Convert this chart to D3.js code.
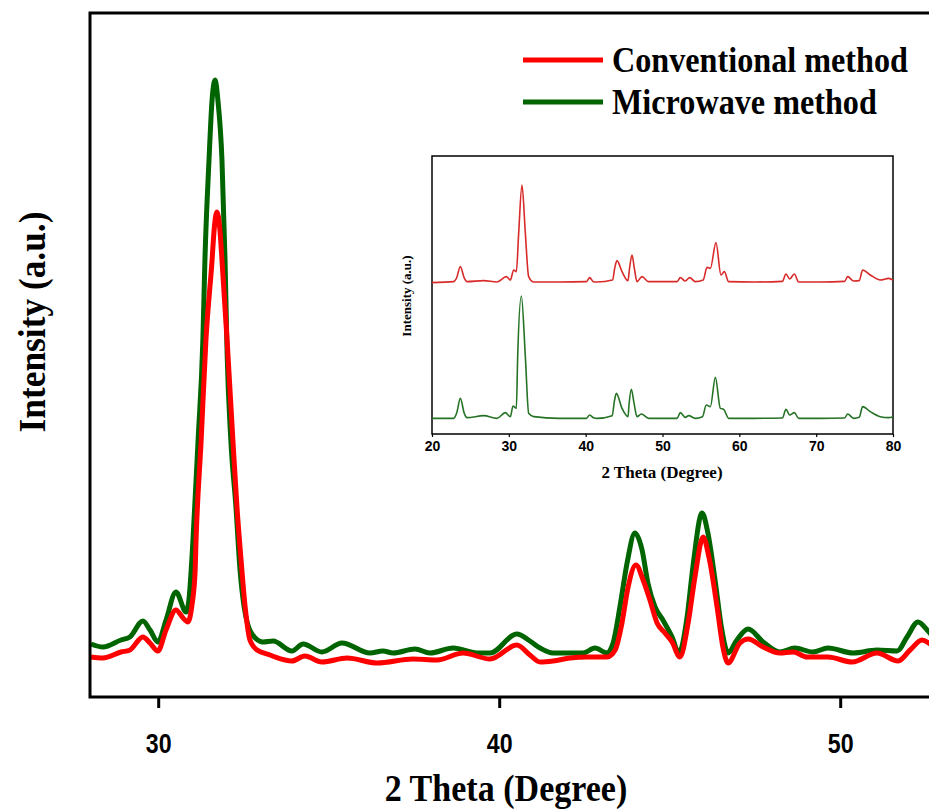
<!DOCTYPE html>
<html>
<head>
<meta charset="utf-8">
<script src="https://cdn.jsdelivr.net/npm/d3@7"></script>
<style>
  html, body { margin: 0; padding: 0; background: #fff; }
  svg { display: block; }
  .serif { font-family: "Liberation Serif", "Times New Roman", serif; font-weight: bold; }
  .sans { font-family: "Liberation Sans", Arial, sans-serif; font-weight: bold; }
</style>
</head>
<body>
<div id="chart"></div>
<script>
// main panel (zoomed 28-53 deg)
const convTheta = [28.03, 28.38, 28.91, 29.17, 29.55, 29.76, 29.99, 30.23, 30.52, 30.73, 30.87, 30.99, 31.08, 31.11, 31.26, 31.40, 31.58, 31.64, 31.72, 31.81, 31.87, 32.02, 32.19, 32.31, 32.43, 32.55, 32.69, 32.90, 33.28, 33.43, 33.92, 34.30, 34.80, 35.54, 36.42, 37.47, 38.18, 38.94, 39.73, 40.52, 40.90, 41.20, 41.58, 42.08, 42.57, 43.16, 43.40, 43.60, 43.78, 44.01, 44.22, 44.42, 44.63, 44.86, 45.07, 45.30, 45.54, 45.74, 45.98, 46.15, 46.39, 46.56, 46.71, 47.06, 47.30, 47.74, 48.23, 48.62, 49.03, 49.64, 50.35, 51.08, 51.70, 52.05, 52.40, 52.60, 52.90];
const convIntensity = [40, 39, 45, 47, 60, 54, 46, 67, 87, 79, 75, 92, 124, 157, 257, 357, 437, 467, 485, 467, 437, 357, 257, 190, 137, 90, 57, 47, 42, 40, 36, 41, 35, 39, 34, 38, 37, 44, 38, 52, 42, 35, 36, 39, 40, 40, 47, 74, 110, 132, 117, 97, 74, 64, 55, 40, 74, 120, 160, 140, 90, 50, 34, 54, 58, 50, 44, 45, 40, 40, 35, 44, 36, 47, 57, 54, 45];

const microTheta = [28.03, 28.38, 28.91, 29.17, 29.55, 29.76, 29.99, 30.23, 30.52, 30.82, 30.90, 31.02, 31.17, 31.31, 31.37, 31.49, 31.58, 31.67, 31.75, 31.87, 31.96, 32.02, 32.13, 32.28, 32.40, 32.52, 32.63, 32.75, 33.07, 33.37, 33.92, 34.25, 34.80, 35.39, 36.21, 36.59, 36.89, 37.53, 37.97, 38.65, 39.35, 39.73, 40.52, 40.90, 41.20, 41.58, 41.99, 42.46, 42.81, 43.16, 43.34, 43.54, 43.75, 43.98, 44.19, 44.36, 44.57, 44.80, 45.07, 45.27, 45.51, 45.68, 45.95, 46.12, 46.33, 46.53, 46.71, 46.97, 47.30, 47.74, 48.23, 48.67, 49.20, 49.64, 50.38, 51.08, 51.67, 51.96, 52.28, 52.55, 52.90];
const microIntensity = [53, 50, 57, 60, 76, 67, 55, 77, 105, 85, 97, 157, 257, 357, 437, 537, 597, 617, 597, 537, 437, 344, 257, 190, 127, 90, 72, 63, 55, 56, 46, 53, 45, 54, 44, 46, 44, 48, 44, 49, 44, 44, 63, 56, 49, 44, 44, 44, 49, 44, 54, 90, 134, 164, 147, 114, 90, 77, 60, 44, 80, 130, 184, 164, 117, 67, 44, 57, 68, 55, 45, 49, 45, 49, 44, 47, 46, 60, 75, 67, 52];

// inset (full 20-80 deg pattern)
const insetConvTheta = [20.0, 22.82, 23.2, 23.69, 24.2, 24.56, 26.72, 28.46, 29.67, 30.20, 30.63, 30.98, 31.28, 31.71, 32.15, 32.58, 33.23, 36.5, 40.1, 40.52, 41.0, 41.48, 43.5, 43.8, 44.08, 44.73, 45.51, 45.7, 46.03, 46.35, 46.68, 47.33, 48.20, 51.9, 52.32, 52.97, 53.54, 54.27, 55.3, 55.79, 56.23, 56.96, 57.61, 58.05, 58.61, 62.0, 65.6, 66.07, 66.55, 67.16, 67.72, 70.5, 73.7, 74.10, 74.88, 75.6, 76.05, 77.05, 78.35, 79.44, 80.0];
const insetConvIntensity = [44, 47, 58, 92, 58, 47, 50, 46, 62, 52, 82, 77, 192, 337, 192, 62, 46, 46, 47, 59, 47, 46, 52, 90, 110, 77, 50, 85, 127, 85, 47, 62, 47, 47, 59, 49, 59, 47, 52, 90, 87, 164, 67, 77, 47, 46, 48, 70, 55, 70, 46, 46, 48, 62, 49, 50, 82, 67, 52, 57, 52];

const insetMicroTheta = [20.0, 22.82, 23.2, 23.69, 24.2, 24.56, 26.72, 28.46, 29.54, 30.20, 30.54, 30.98, 31.15, 31.63, 32.15, 32.58, 33.23, 36.5, 40.1, 40.52, 41.0, 41.48, 43.45, 43.75, 43.99, 44.73, 45.51, 45.65, 45.94, 46.3, 46.68, 47.25, 48.20, 51.9, 52.32, 52.97, 53.41, 54.27, 55.2, 55.70, 56.23, 56.88, 57.53, 57.96, 58.61, 62.0, 65.6, 66.07, 66.55, 67.16, 67.72, 70.5, 73.7, 74.10, 74.88, 75.6, 76.05, 77.05, 78.35, 79.44, 80.0];
const insetMicroIntensity = [47, 47, 62, 107, 62, 49, 55, 47, 64, 52, 84, 77, 232, 414, 232, 62, 52, 47, 47, 57, 49, 47, 55, 100, 122, 77, 52, 90, 134, 92, 52, 60, 47, 47, 64, 50, 55, 47, 52, 87, 82, 170, 77, 74, 47, 47, 48, 74, 57, 64, 47, 47, 48, 60, 47, 50, 82, 67, 52, 49, 52];

const mainTicks = [30, 40, 50];
const insetTicks = [20, 30, 40, 50, 60, 70, 80];
const insetOffset = 410; // vertical stacking of the conventional pattern

const seriesNames = ["Conventional method", "Microwave method"];
const seriesColors = ["#ff0000", "#006400"];
const insetColors = ["#d92a2a", "#267326"];

const width = 929;
const height = 810;

const svg = d3.select("#chart")
  .append("svg")
  .attr("width", width)
  .attr("height", height);

// ---------- main panel ----------
const plot = { left: 90, top: 13, bottom: 697 };

const x = d3.scaleLinear()
  .domain([28, 53])
  .range([plot.left, plot.left + 25 * 34.1]);

const y = d3.scaleLinear()
  .domain([0, 684])
  .range([plot.bottom, plot.top]);

svg.append("clipPath")
  .attr("id", "plotClip")
  .append("rect")
  .attr("x", plot.left)
  .attr("y", plot.top)
  .attr("width", x(53) - plot.left)
  .attr("height", plot.bottom - plot.top);

const line = d3.line()
  .x(d => x(d[0]))
  .y(d => y(d[1]))
  .curve(d3.curveMonotoneX);

const mainSeries = [
  d3.zip(convTheta, convIntensity),
  d3.zip(microTheta, microIntensity)
];

// microwave drawn first, conventional on top
svg.append("g")
  .attr("clip-path", "url(#plotClip)")
  .selectAll("path")
  .data([1, 0])
  .enter()
  .append("path")
  .attr("fill", "none")
  .attr("stroke", i => seriesColors[i])
  .attr("stroke-width", 5)
  .attr("stroke-linejoin", "round")
  .attr("d", i => line(mainSeries[i]));

// frame
svg.append("rect")
  .attr("x", plot.left)
  .attr("y", plot.top)
  .attr("width", x(53) - plot.left + 20)
  .attr("height", plot.bottom - plot.top)
  .attr("fill", "none")
  .attr("stroke", "#000")
  .attr("stroke-width", 3);

const xAxis = svg.append("g")
  .attr("transform", `translate(0,${plot.bottom})`)
  .call(d3.axisBottom(x).tickValues(mainTicks).tickSize(11).tickPadding(26));

xAxis.select(".domain").remove();
xAxis.selectAll(".tick line").attr("stroke", "#000").attr("stroke-width", 3);
xAxis.selectAll(".tick text")
  .attr("class", "sans")
  .attr("fill", "#000")
  .attr("transform", "scale(0.86,1)")
  .style("font-size", "27px");

svg.append("text")
  .attr("class", "serif")
  .attr("transform", "translate(506,801) scale(0.92,1)")
  .attr("text-anchor", "middle")
  .style("font-size", "37px")
  .text("2 Theta (Degree)");

svg.append("text")
  .attr("class", "serif")
  .attr("transform", "translate(45,322) rotate(-90) scale(0.93,1)")
  .attr("text-anchor", "middle")
  .style("font-size", "38px")
  .text("Intensity (a.u.)");

// legend
const legend = svg.append("g");
seriesNames.forEach((name, i) => {
  const row = legend.append("g")
    .attr("transform", `translate(523, ${60 + i * 42})`);
  row.append("line")
    .attr("x1", 0)
    .attr("x2", 80)
    .attr("stroke", seriesColors[i])
    .attr("stroke-width", 5);
  row.append("text")
    .attr("class", "serif")
    .attr("transform", "translate(89,12) scale(0.92,1)")
    .style("font-size", "35px")
    .text(name);
});

// ---------- inset ----------
const inset = { left: 432, right: 893, top: 156, bottom: 434 };

const ix = d3.scaleLinear()
  .domain([20, 80])
  .range([inset.left, inset.right]);

const iy = d3.scaleLinear()
  .domain([0, 834])
  .range([inset.bottom, inset.top]);

const insetLine = d3.line()
  .x(d => ix(d[0]))
  .y(d => iy(d[1]))
  .curve(d3.curveMonotoneX);

const insetSeries = [
  d3.zip(insetConvTheta, insetConvIntensity.map(v => v + insetOffset)),
  d3.zip(insetMicroTheta, insetMicroIntensity)
];

svg.append("rect")
  .attr("x", inset.left)
  .attr("y", inset.top)
  .attr("width", inset.right - inset.left)
  .attr("height", inset.bottom - inset.top)
  .attr("fill", "#fff")
  .attr("stroke", "#000")
  .attr("stroke-width", 1.5);

svg.append("g")
  .selectAll("path")
  .data(insetSeries)
  .enter()
  .append("path")
  .attr("fill", "none")
  .attr("stroke", (d, i) => insetColors[i])
  .attr("stroke-width", 1.6)
  .attr("d", insetLine);

const ixAxis = svg.append("g")
  .attr("transform", `translate(0,${inset.bottom})`)
  .call(d3.axisBottom(ix).tickValues(insetTicks).tickSize(3).tickPadding(4));

ixAxis.select(".domain").remove();
ixAxis.selectAll(".tick line").attr("stroke", "#000").attr("stroke-width", 1.2);
ixAxis.selectAll(".tick text")
  .attr("class", "sans")
  .attr("fill", "#000")
  .style("font-size", "14px");

svg.append("text")
  .attr("class", "serif")
  .attr("x", 662)
  .attr("y", 478)
  .attr("text-anchor", "middle")
  .style("font-size", "17px")
  .text("2 Theta (Degree)");

svg.append("text")
  .attr("class", "serif")
  .attr("transform", "translate(411,296) rotate(-90)")
  .attr("text-anchor", "middle")
  .style("font-size", "13px")
  .text("Intensity (a.u.)");
</script>
</body>
</html>
